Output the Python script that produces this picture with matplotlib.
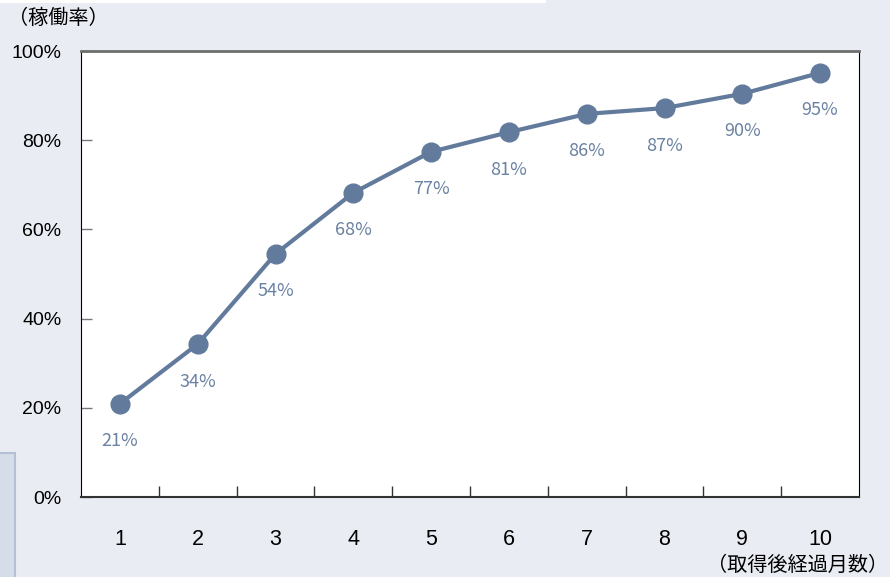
import numpy as np
import matplotlib.pyplot as plt
from matplotlib.patches import Rectangle

plt.rcParams['font.family'] = ['Liberation Sans', 'Noto Sans CJK JP', 'DejaVu Sans']

months = [1, 2, 3, 4, 5, 6, 7, 8, 9, 10]
rate = [20.9, 34.3, 54.5, 68.2, 77.4, 81.8, 85.9, 87.2, 90.4, 95.1]
rate_labels = ['21%', '34%', '54%', '68%', '77%', '81%', '86%', '87%', '90%', '95%']
yticks = [0, 20, 40, 60, 80, 100]

line_col = '#627a9c'
label_col = '#6b82a3'

fig = plt.figure(figsize=(8.9, 5.77), dpi=100)
fig.patch.set_facecolor('#e9ecf3')

# odd little panel at bottom left
fig.patches.append(Rectangle((-0.01, -0.01), 0.027, 0.225, transform=fig.transFigure,
                             facecolor='#d6dde9', edgecolor='#b4c0d4', lw=1.5))
fig.patches.append(Rectangle((0, 0.995), 0.613, 0.01, transform=fig.transFigure,
                             facecolor='white', edgecolor='none'))

ax = fig.add_axes([81/890, 80/577, 778/890, 446/577])
ax.set_facecolor('white')

ax.plot(months, rate, color=line_col, lw=3, marker='o', ms=13.5, zorder=3,
        clip_on=False)
for m, v, t in zip(months, rate, rate_labels):
    ax.annotate(t, (m, v), xytext=(0, -27), textcoords='offset points',
                ha='center', va='center', color=label_col, fontsize=13,
                family=['Noto Sans CJK JP'])

ax.set_xlim(0.5, 10.5)
ax.set_ylim(0, 100)

ax.set_xticks(np.arange(1.5, 10.5, 1))
ax.set_xticklabels([])
ax.set_xticks(months, minor=True)
ax.set_xticklabels([str(m) for m in months], minor=True, fontsize=15.5)
ax.tick_params(axis='x', which='major', direction='in', length=8, width=1, color='#333333')
ax.tick_params(axis='x', which='minor', length=0, pad=23)

ax.set_yticks(yticks)
ax.set_yticklabels([f'{y}%' for y in yticks], fontsize=14)
ax.tick_params(axis='y', direction='in', length=8, width=1, color='#777777', pad=14)

ax.spines['top'].set_color('#6e6e6e')
ax.spines['top'].set_linewidth(2)
ax.spines['right'].set_color('black')
ax.spines['left'].set_color('black')
ax.spines['bottom'].set_color('#333333')
ax.spines['bottom'].set_linewidth(1.5)

fig.text(8/890, 1 - 18/577, '（稼働率）', fontsize=14.5, va='center', ha='left',
         family=['Noto Sans CJK JP'])
fig.text(888/890, 1 - 565/577, '（取得後経過月数）', fontsize=14.5, va='center', ha='right',
         family=['Noto Sans CJK JP'])

plt.savefig('out.png', dpi=100, facecolor=fig.get_facecolor())
